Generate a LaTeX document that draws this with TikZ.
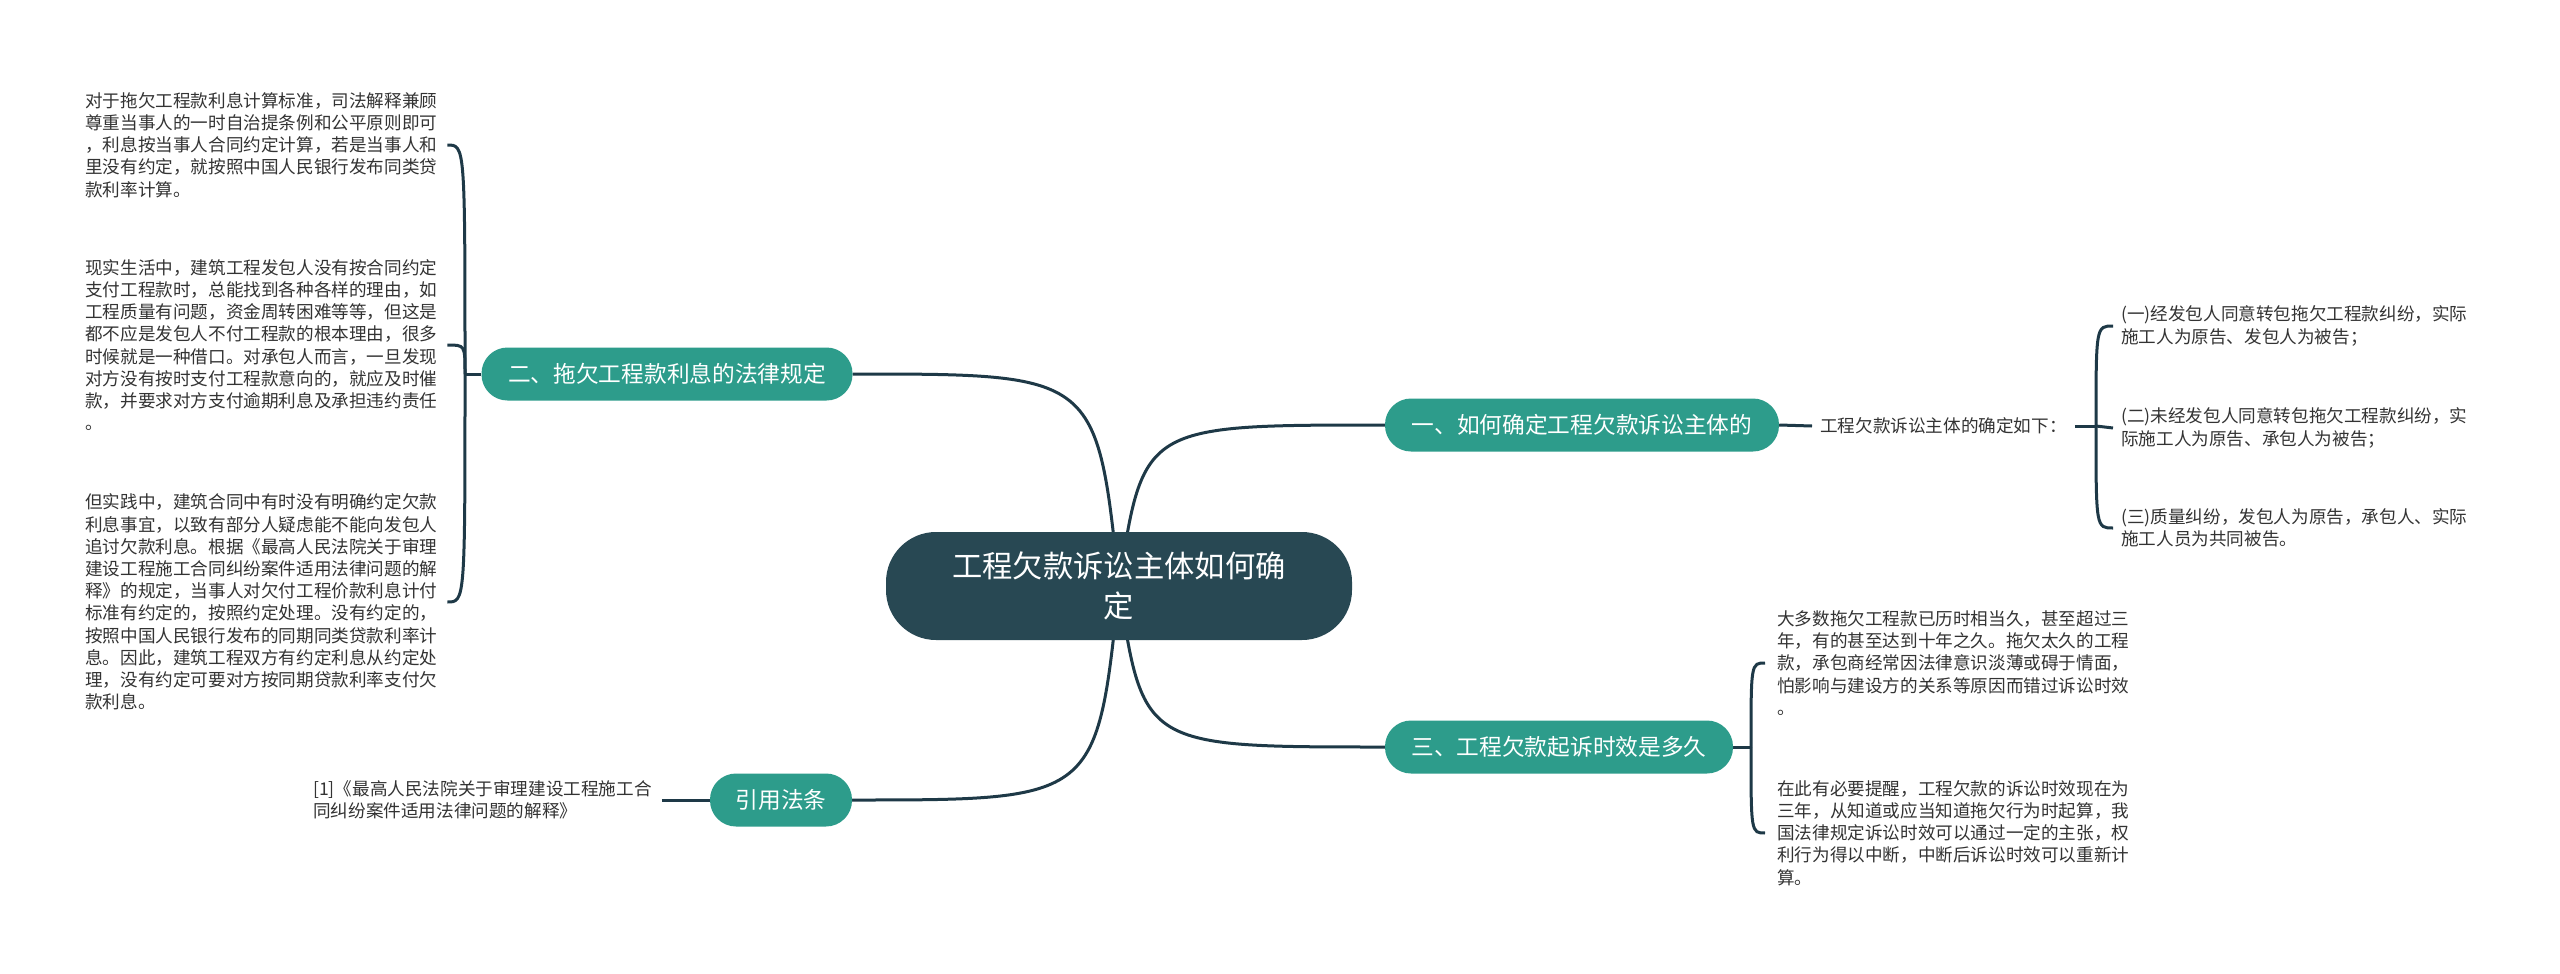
\documentclass[tikz,border=0pt]{standalone}
\usepackage{fontspec}
\newfontfamily\cjk{Noto Sans CJK SC}
\definecolor{linec}{HTML}{1E3947}
\definecolor{core}{HTML}{284853}
\definecolor{pill}{HTML}{2D9C8B}
\definecolor{txt}{HTML}{333333}
\pgfdeclarelayer{back}
\pgfdeclarelayer{bg}
\pgfsetlayers{back,bg,main}
\begin{document}
\begin{tikzpicture}[x=1pt,y=-1pt,
  conn/.style={draw=linec, line width=3pt},
  pillnode/.style={fill=pill, text=white, rounded corners=26pt, font=\cjk\fontsize{22.7}{27}\selectfont, minimum height=53pt, inner sep=0pt},
  body/.style={font=\cjk\fontsize{17.6}{22.2}\selectfont, text=txt, align=left, inner ysep=0pt, inner xsep=10pt, anchor=west}
]
\useasboundingbox (0,0) rectangle (2560,974);
\begin{pgfonlayer}{back}
\fill[white] (0,0) rectangle (2560,974);
\end{pgfonlayer}

% central
\node[fill=core, text=white, rounded corners=50pt, minimum width=466pt, minimum height=108pt, align=center, inner sep=0pt, font=\cjk\fontsize{30.3}{40}\selectfont] (c) at (1119,586) {工程欠款诉讼主体如何确\\定};

% branches
\node[pillnode, minimum width=394pt] (b1) at (1582,425) {一、如何确定工程欠款诉讼主体的};
\node[pillnode, minimum width=371pt] (b2) at (667,374) {二、拖欠工程款利息的法律规定};
\node[pillnode, minimum width=348pt] (b3) at (1559,747) {三、工程欠款起诉时效是多久};
\node[pillnode, minimum width=142pt] (b4) at (781,800) {引用法条};

% left texts
\node[body] (t1) at (75,145) {对于拖欠工程款利息计算标准，司法解释兼顾\\
尊重当事人的一时自治提条例和公平原则即可\\
，利息按当事人合同约定计算，若是当事人和\\
里没有约定，就按照中国人民银行发布同类贷\\
款利率计算。};
\node[body] (t2) at (75,345) {现实生活中，建筑工程发包人没有按合同约定\\
支付工程款时，总能找到各种各样的理由，如\\
工程质量有问题，资金周转困难等等，但这是\\
都不应是发包人不付工程款的根本理由，很多\\
时候就是一种借口。对承包人而言，一旦发现\\
对方没有按时支付工程款意向的，就应及时催\\
款，并要求对方支付逾期利息及承担违约责任\\
。};
\node[body] (t3) at (75,602) {但实践中，建筑合同中有时没有明确约定欠款\\
利息事宜，以致有部分人疑虑能不能向发包人\\
追讨欠款利息。根据《最高人民法院关于审理\\
建设工程施工合同纠纷案件适用法律问题的解\\
释》的规定，当事人对欠付工程价款利息计付\\
标准有约定的，按照约定处理。没有约定的，\\
按照中国人民银行发布的同期同类贷款利率计\\
息。因此，建筑工程双方有约定利息从约定处\\
理，没有约定可要对方按同期贷款利率支付欠\\
款利息。};
\node[body] (t4) at (303,800) {[1]《最高人民法院关于审理建设工程施工合\\
同纠纷案件适用法律问题的解释》};

% right texts
\node[body, inner xsep=8pt] (tq) at (1812,426) {工程欠款诉讼主体的确定如下：};
\node[body, inner xsep=8pt] (i1) at (2113,326) {(一)经发包人同意转包拖欠工程款纠纷，实际\\
施工人为原告、发包人为被告；};
\node[body, inner xsep=8pt] (i2) at (2113,428) {(二)未经发包人同意转包拖欠工程款纠纷，实\\
际施工人为原告、承包人为被告；};
\node[body, inner xsep=8pt] (i3) at (2113,528) {(三)质量纠纷，发包人为原告，承包人、实际\\
施工人员为共同被告。};
\node[body, inner xsep=12pt] (t5) at (1765,663) {大多数拖欠工程款已历时相当久，甚至超过三\\
年，有的甚至达到十年之久。拖欠太久的工程\\
款，承包商经常因法律意识淡薄或碍于情面，\\
怕影响与建设方的关系等原因而错过诉讼时效\\
。};
\node[body, inner xsep=12pt] (t6) at (1765,833) {在此有必要提醒，工程欠款的诉讼时效现在为\\
三年，从知道或应当知道拖欠行为时起算，我\\
国法律规定诉讼时效可以通过一定的主张，权\\
利行为得以中断，中断后诉讼时效可以重新计\\
算。};

\coordinate (j1) at (2096,426);
\coordinate (j2) at (465,374);
\coordinate (j3) at (1751,747);
\coordinate (cl) at (1097,586);
\coordinate (cr) at (1143,586);

\begin{pgfonlayer}{bg}
% central connectors
\draw[conn] (c.center) .. controls (cr |- b1.west) .. (b1.west);
\draw[conn] (c.center) .. controls (cl |- b2.east) .. (b2.east);
\draw[conn] (c.center) .. controls (cr |- b3.west) .. (b3.west);
\draw[conn] (c.center) .. controls (cl |- b4.east) .. (b4.east);
% branch 1
\draw[conn] (b1.east) -- (tq.west);
\draw[conn] (tq.east) -- (j1);
\draw[conn] (j1) .. controls (j1 |- i1.west) .. (i1.west);
\draw[conn] (j1) -- (i2.west);
\draw[conn] (j1) .. controls (j1 |- i3.west) .. (i3.west);
% branch 2
\draw[conn] (b2.west) -- (j2);
\draw[conn] (j2) .. controls (j2 |- t1.east) .. (t1.east);
\draw[conn] (j2) .. controls (j2 |- t2.east) .. (t2.east);
\draw[conn] (j2) .. controls (j2 |- t3.east) .. (t3.east);
% branch 3
\draw[conn] (b3.east) -- (j3);
\draw[conn] (j3) .. controls (j3 |- t5.west) .. (t5.west);
\draw[conn] (j3) .. controls (j3 |- t6.west) .. (t6.west);
% branch 4
\draw[conn] (t4.east) -- (b4.west);
\end{pgfonlayer}
\end{tikzpicture}
\end{document}
